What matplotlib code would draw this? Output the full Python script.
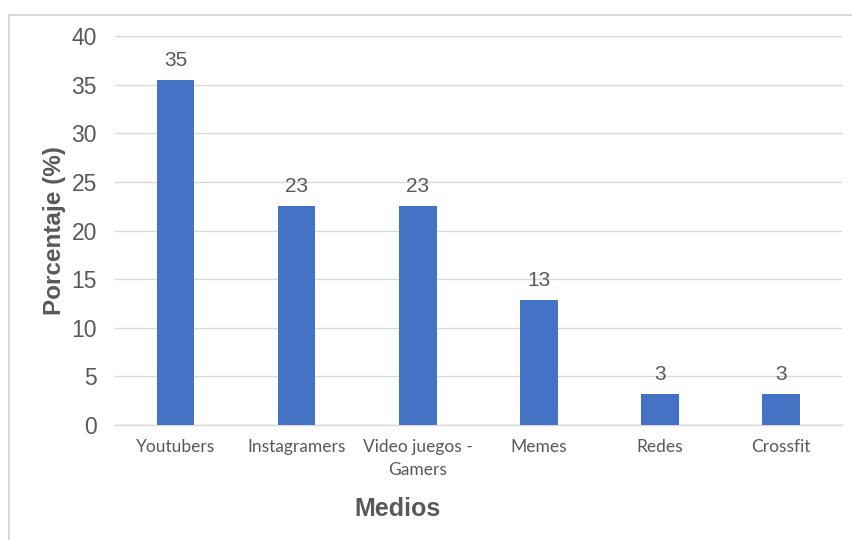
import matplotlib
matplotlib.use("Agg")
import matplotlib.pyplot as plt
from matplotlib.lines import Line2D

# Survey share by source (n = 31)
medios = ["Youtubers", "Instagramers", "Video juegos -\nGamers", "Memes", "Redes", "Crossfit"]
porcentaje = [35.48, 22.58, 22.58, 12.90, 3.23, 3.23]

C_BAR = "#4472C4"
C_TEXT = "#595959"
C_GRID = "#D9D9D9"

fig = plt.figure(figsize=(8.52, 5.40), dpi=100)
ax = fig.add_axes([0.135, 0.213, 0.853, 0.72])

x = range(len(medios))
bars = ax.bar(x, porcentaje, width=0.31, color=C_BAR, zorder=3)
for rect, v in zip(bars, porcentaje):
    ax.annotate(f"{v:.0f}", (rect.get_x() + rect.get_width() / 2, v),
                xytext=(0, 7), textcoords="offset points",
                ha="center", va="bottom", fontsize=15, color=C_TEXT,
                family="Liberation Sans")

ax.set_xlim(-0.5, len(medios) - 0.5)
ax.set_ylim(0, 40)
ax.set_yticks(range(0, 41, 5))
ax.set_xticks(list(x))
ax.set_xticklabels(medios, fontsize=12.5, color=C_TEXT, family="Lato",
                   linespacing=1.55, va="top")
for t in ax.get_yticklabels():
    t.set_fontsize(16.5)
    t.set_color(C_TEXT)
    t.set_family("Liberation Sans")

ax.yaxis.grid(True, color=C_GRID, lw=1.0, zorder=0)
ax.tick_params(axis="both", length=0)
ax.tick_params(axis="y", pad=13)
ax.tick_params(axis="x", pad=10)
for side in ["top", "right", "left"]:
    ax.spines[side].set_visible(False)
ax.spines["bottom"].set_color(C_GRID)
ax.spines["bottom"].set_linewidth(1.0)

ax.set_ylabel("Porcentaje (%)", fontsize=17.5, fontweight="bold", color=C_TEXT,
              family="Liberation Sans", labelpad=4)
fig.text(398 / 852, 1 - 509 / 540, "Medios", ha="center", va="center",
         fontsize=18, fontweight="bold", color=C_TEXT, family="Liberation Sans")

# chart area frame (top and left edges)
fig.add_artist(Line2D([9 / 852, 1.0], [1 - 15 / 540, 1 - 15 / 540],
                      color=C_GRID, lw=1.5, transform=fig.transFigure))
fig.add_artist(Line2D([9 / 852, 9 / 852], [0.0, 1 - 15 / 540],
                      color=C_GRID, lw=1.5, transform=fig.transFigure))

fig.savefig("out.png", dpi=100, facecolor="white")
